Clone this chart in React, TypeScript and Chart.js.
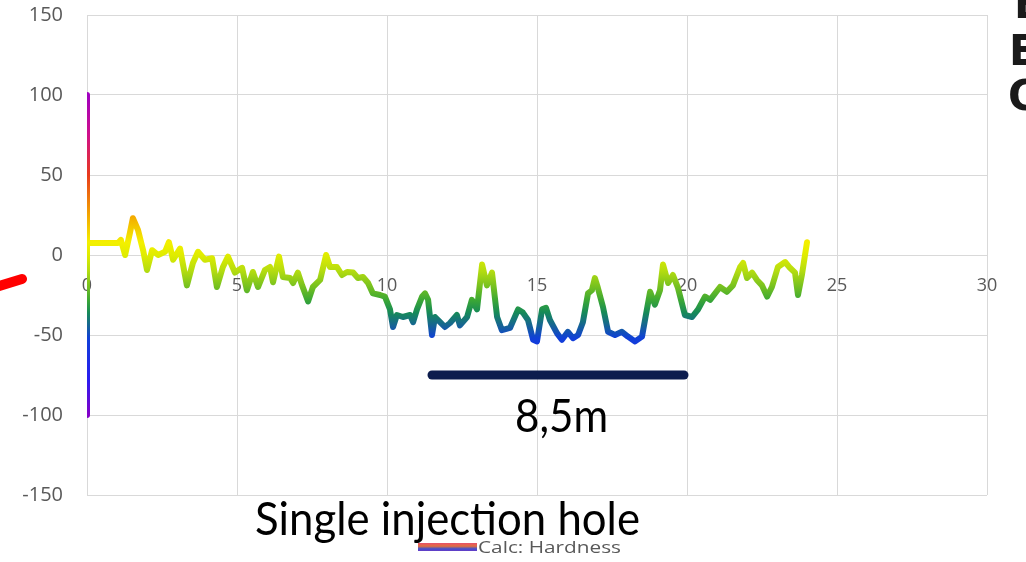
import React, { useEffect, useRef } from "react";
import { Chart, registerables } from "chart.js";

Chart.register(...registerables);

// ---- data ----
const distanceM = [
  0, 0, 0, 1.03, 1.13, 1.27, 1.43, 1.53, 1.7, 1.87, 2.0, 2.17, 2.37, 2.6, 2.73, 2.87, 3.1, 3.33, 3.53, 3.7,
  3.93, 4.17, 4.33, 4.53, 4.7, 4.93, 5.17, 5.33, 5.53, 5.7, 5.93, 6.1, 6.2, 6.4, 6.53, 6.77, 6.87, 7.03, 7.17,
  7.37, 7.53, 7.77, 7.97, 8.1, 8.33, 8.5, 8.67, 8.87, 9.03, 9.2, 9.37, 9.53, 9.77, 9.93, 10.1, 10.2, 10.33,
  10.53, 10.77, 10.87, 11.0, 11.17, 11.27, 11.37, 11.5, 11.6, 11.77, 11.93, 12.1, 12.33, 12.43, 12.67, 12.83,
  13.0, 13.17, 13.33, 13.5, 13.67, 13.83, 14.1, 14.37, 14.53, 14.7, 14.87, 15.0, 15.17, 15.3, 15.43, 15.67,
  15.83, 16.03, 16.2, 16.37, 16.53, 16.7, 16.83, 16.93, 17.03, 17.2, 17.37, 17.6, 17.83, 18.03, 18.27, 18.5,
  18.6, 18.77, 18.93, 19.1, 19.2, 19.37, 19.53, 19.7, 19.93, 20.17, 20.37, 20.6, 20.77, 21.1, 21.33, 21.53,
  21.77, 21.87, 22.0, 22.17, 22.33, 22.5, 22.67, 22.83, 23.03, 23.27, 23.43, 23.6, 23.7, 23.83, 24.0,
];
const hardness = [
  100, -100, 7.5, 7.5, 9.4, 0, 13.75, 23, 15.6, 3, -9.4, 3, 0, 2, 8, -3, 4, -19, -5, 2,
  -3, -2, -20, -7.5, -1, -11, -8, -22, -10.6, -20, -9.4, -7.5, -17, -1, -13.75, -14.4, -17.5, -11, -19,
  -29, -20, -15.6, 0, -7.5, -7.5, -12.5, -10.6, -11, -14.4, -13.75, -17.5, -24, -25, -26, -34, -45, -37.5,
  -38.75, -37.5, -42, -34, -26, -24, -28, -50, -38.75, -42, -45, -42.5, -37.5, -44, -38.75, -28,
  -34, -6, -19, -11, -38.75, -47, -45.6, -34, -36, -40.6, -53, -54, -34, -33, -40.6, -49,
  -53, -48, -52, -50, -42, -24, -22, -14.4, -20.6, -32.5, -48, -50, -48, -51, -54, -51,
  -40.6, -23, -31, -22, -6, -17.5, -12.5, -20.6, -37.5, -38.75, -34, -26, -28, -20, -23, -19,
  -7.5, -5, -14.4, -11, -15.6, -19, -26, -20, -7.5, -4.4, -8, -11, -25, -12.5, 8,
];
const xTickValues = [0, 5, 10, 15, 20, 25, 30];
const yTickValues = [-150, -100, -50, 0, 50, 100, 150];
const seriesLabel = "Calc: Hardness";
const spanLabel = "8,5m";
const captionText = "Single injection hole";
const spanStartM = 11.5;
const spanEndM = 19.9;
const spanLevel = -75;
const sideLetters = ["E", "E", "O"];

// colour ramp of the hardness value
const colourStops: [number, string][] = [
  [100, "#a000c0"],
  [75, "#d0108a"],
  [50, "#e83a1c"],
  [25, "#f3a600"],
  [8, "#f4f000"],
  [0, "#e0ec00"],
  [-10, "#b4dc10"],
  [-20, "#74c020"],
  [-28, "#3ca834"],
  [-36, "#168a58"],
  [-44, "#166494"],
  [-52, "#1040d8"],
  [-78, "#2a1cf0"],
  [-100, "#8400c8"],
];

function valueGradient(ctx: CanvasRenderingContext2D, y: any) {
  const top = y.getPixelForValue(100);
  const bottom = y.getPixelForValue(-100);
  const g = ctx.createLinearGradient(0, top, 0, bottom);
  colourStops.forEach(([v, c]) => g.addColorStop((100 - v) / 200, c));
  return g;
}

function drawFitted(ctx: CanvasRenderingContext2D, text: string, left: number, baseline: number, width: number, font: string, color: string) {
  ctx.save();
  ctx.font = font;
  ctx.fillStyle = color;
  ctx.textBaseline = "alphabetic";
  ctx.textAlign = "left";
  const w = ctx.measureText(text).width;
  ctx.translate(left, baseline);
  ctx.scale(width / w, 1);
  ctx.fillText(text, 0, 0);
  ctx.restore();
}

const annotate = {
  id: "annotate",
  afterDraw(chart: any) {
    const { ctx, scales } = chart;
    const x = scales.x;
    const y = scales.y;
    ctx.save();
    // span bar
    ctx.strokeStyle = "#0d1d4e";
    ctx.lineWidth = 9;
    ctx.lineCap = "round";
    ctx.beginPath();
    ctx.moveTo(x.getPixelForValue(spanStartM), y.getPixelForValue(spanLevel));
    ctx.lineTo(x.getPixelForValue(spanEndM), y.getPixelForValue(spanLevel));
    ctx.stroke();

    // red dash at the left
    ctx.strokeStyle = "#ff0000";
    ctx.lineWidth = 10;
    ctx.beginPath();
    ctx.moveTo(-4, 287);
    ctx.lineTo(22, 279);
    ctx.stroke();

    // texts
    drawFitted(ctx, spanLabel, 515, 432, 93, "47px Lato", "#000000");
    drawFitted(ctx, captionText, 255, 535, 385, "46px Lato", "#000000");

    // legend
    const lg = ctx.createLinearGradient(0, 543, 0, 552);
    lg.addColorStop(0, "#e8506a");
    lg.addColorStop(0.35, "#e07040");
    lg.addColorStop(0.65, "#4050d0");
    lg.addColorStop(1, "#7a30c0");
    ctx.fillStyle = lg;
    ctx.fillRect(418, 543, 59, 8);
    drawFitted(ctx, seriesLabel, 478, 553, 143, "17px 'Open Sans'", "#595959");

    // clipped side letters
    ctx.fillStyle = "#1a1a1a";
    ctx.font = "bold 42px 'DejaVu Sans'";
    ctx.textBaseline = "alphabetic";
    ctx.fillText(sideLetters[0], 1014, 18);
    ctx.fillText(sideLetters[1], 1009, 65);
    ctx.fillText(sideLetters[2], 1008, 110);
    ctx.restore();
  },
};

export default function App() {
  const ref = useRef<HTMLCanvasElement>(null);
  useEffect(() => {
    if (!ref.current) return;
    const chart = new Chart(ref.current, {
      type: "scatter",
      data: {
        datasets: [
          {
            label: seriesLabel,
            data: distanceM.map((d, i) => ({ x: d, y: hardness[i] })),
            showLine: true,
            borderWidth: 6,
            pointRadius: 0,
            tension: 0,
            borderJoinStyle: "round",
            borderCapStyle: "round",
            borderColor: (c: any) => {
              const ch = c.chart;
              if (!ch.chartArea) return "#888888";
              return valueGradient(ch.ctx, ch.scales.y);
            },
          } as any,
        ],
      },
      options: {
        responsive: false,
        animation: false,
        layout: { padding: { top: 15, right: 39, bottom: 67, left: 0 } },
        plugins: { legend: { display: false }, tooltip: { enabled: false } },
        scales: {
          x: {
            type: "linear",
            min: 0,
            max: 30,
            position: { y: 0 } as any,
            afterBuildTicks: (s: any) => {
              s.ticks = xTickValues.map((v) => ({ value: v }));
            },
            afterFit: (s: any) => {
              s.height = 0;
            },
            ticks: {
              color: "#595959",
              font: { family: "'Open Sans'", size: 18 },
              padding: 20,
              maxRotation: 0,
            },
            grid: { color: "#d9d9d9", lineWidth: 1, drawTicks: false },
            border: { display: false },
          },
          y: {
            type: "linear",
            min: -150,
            max: 150,
            afterBuildTicks: (s: any) => {
              s.ticks = yTickValues.map((v) => ({ value: v }));
            },
            afterFit: (s: any) => {
              s.width = 87;
              s.paddingTop = 0;
              s.paddingBottom = 0;
            },
            ticks: {
              color: "#595959",
              font: { family: "'Open Sans'", size: 20 },
              padding: 24,
            },
            grid: { color: "#d9d9d9", lineWidth: 1, drawTicks: false },
            border: { display: false },
          },
        },
      } as any,
      plugins: [annotate],
    });
    return () => chart.destroy();
  }, []);
  return (
    <div style={{ position: "fixed", left: 0, top: 0, width: 1026, height: 562, background: "#ffffff" }}>
      <canvas ref={ref} width={1026} height={562} style={{ display: "block", width: 1026, height: 562 }} />
    </div>
  );
}
